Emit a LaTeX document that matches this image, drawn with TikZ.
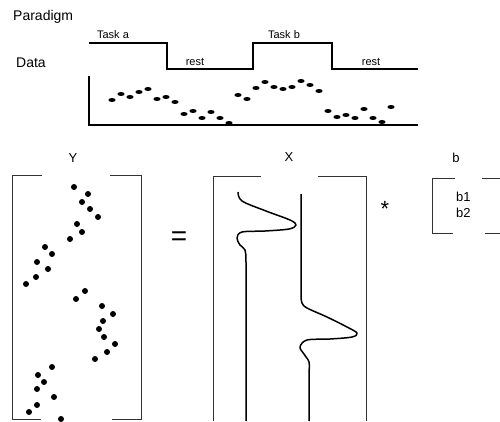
\documentclass[tikz,border=0pt]{standalone}
\usepackage{fontspec}
\setmainfont{Liberation Sans}
\begin{document}
\begin{tikzpicture}[x=1pt,y=-1pt,
  lbl/.style={inner sep=0pt,font=\fontsize{13}{15}\selectfont},
  small/.style={inner sep=0pt,font=\fontsize{11}{13}\selectfont},
  big/.style={inner sep=0pt,font=\fontsize{14}{16}\selectfont},
  thinline/.style={line width=0.9pt,draw=black!80},
  curve/.style={line width=1.5pt,line join=round},
  ddot/.style={fill=black},
]
\useasboundingbox (0,0) rectangle (500,421);
% titles
\node[big,anchor=west] (paradigm) at (13,17) {Paradigm};
\node[big,anchor=west] (data) at (16,63) {Data};
% paradigm boxcar
\draw[line width=1.5pt] (89,43) -- (167,43) -- (167,69) -- (253,69) -- (253,43) -- (332,43) -- (332,69) -- (418,69);
\node[small] (taska) at (113,35) {Task a};
\node[small] (rest1) at (195,62) {rest};
\node[small] (taskb) at (284,35) {Task b};
\node[small] (rest2) at (371,62) {rest};
% data axes
\draw[line width=1.3pt] (89,76) -- (89,125) -- (418,125);
\foreach \i/\yy in {0/100,1/94,2/97,3/92,4/89,5/99,6/97,7/102,8/114,9/111,10/118,11/112,12/118,13/123,14/95,15/99,
  16/88,17/82,18/87,19/89,20/87,21/81,22/85,23/91,24/111,25/117,26/115,27/118,28/109,29/118,30/122,31/107}
  \fill[ddot] ({112+9*\i},\yy) ellipse [x radius=3.6pt, y radius=2pt];
% Y
\node[lbl] (ylbl) at (73,158) {Y};
\draw[thinline] (42,175) -- (12,175) -- (12,419) -- (41,419);
\draw[thinline] (110,175) -- (141,175) -- (141,419) -- (112,419);
\foreach \xx/\yy in {74/187,88/194,82/202,90/209,98/217,77/224,82/232,70/239,45/247,52/254,37/262,48/269,36/277,26/284,
  85/291,76/299,102/306,113/314,103/321,99/329,104/337,115/344,107/352,95/359,52/367,38/375,44/382,37/389,54/397,37/405,29/412,61/419}
  \fill[ddot] (\xx,\yy) circle [radius=3pt];
% equals
\node[inner sep=0pt,anchor=base,font=\fontsize{28}{30}\selectfont] (eq) at (179,245) {=};
% X
\node[lbl] (xlbl) at (289,157) {X};
\draw[thinline] (261,176) -- (213,176) -- (213,421);
\draw[thinline] (318,176) -- (366,176) -- (366,421);
\draw[curve] plot[smooth,tension=0.55] coordinates {(238,192) (242,201) (266,211) (290,220) (296,225) (289,229) (265,231) (242,232) (237,238) (240,245) (245,250) (246,262) (246,300)} -- (246,421);
\draw[curve] (301,194) -- (301,296) plot[smooth,tension=0.55] coordinates {(301,296) (302,303) (307,308) (327,317) (347,327) (357,333) (352,337) (330,339) (307,340) (300,347) (304,354) (309,362) (309,372)} -- (309,421);
% star
\node[inner sep=0pt,anchor=base,font=\fontsize{22}{24}\selectfont] (star) at (385,216) {*};
% b
\node[lbl] (blbl) at (456,158) {b};
\draw[thinline] (455,178) -- (432,178) -- (432,233) -- (453,233);
\draw[thinline] (482,178) -- (500,178);
\draw[thinline] (485,233) -- (500,233);
\node[lbl,anchor=west] (b1) at (456,197) {b1};
\node[lbl,anchor=west] (b2) at (456,213) {b2};
\end{tikzpicture}
\end{document}
